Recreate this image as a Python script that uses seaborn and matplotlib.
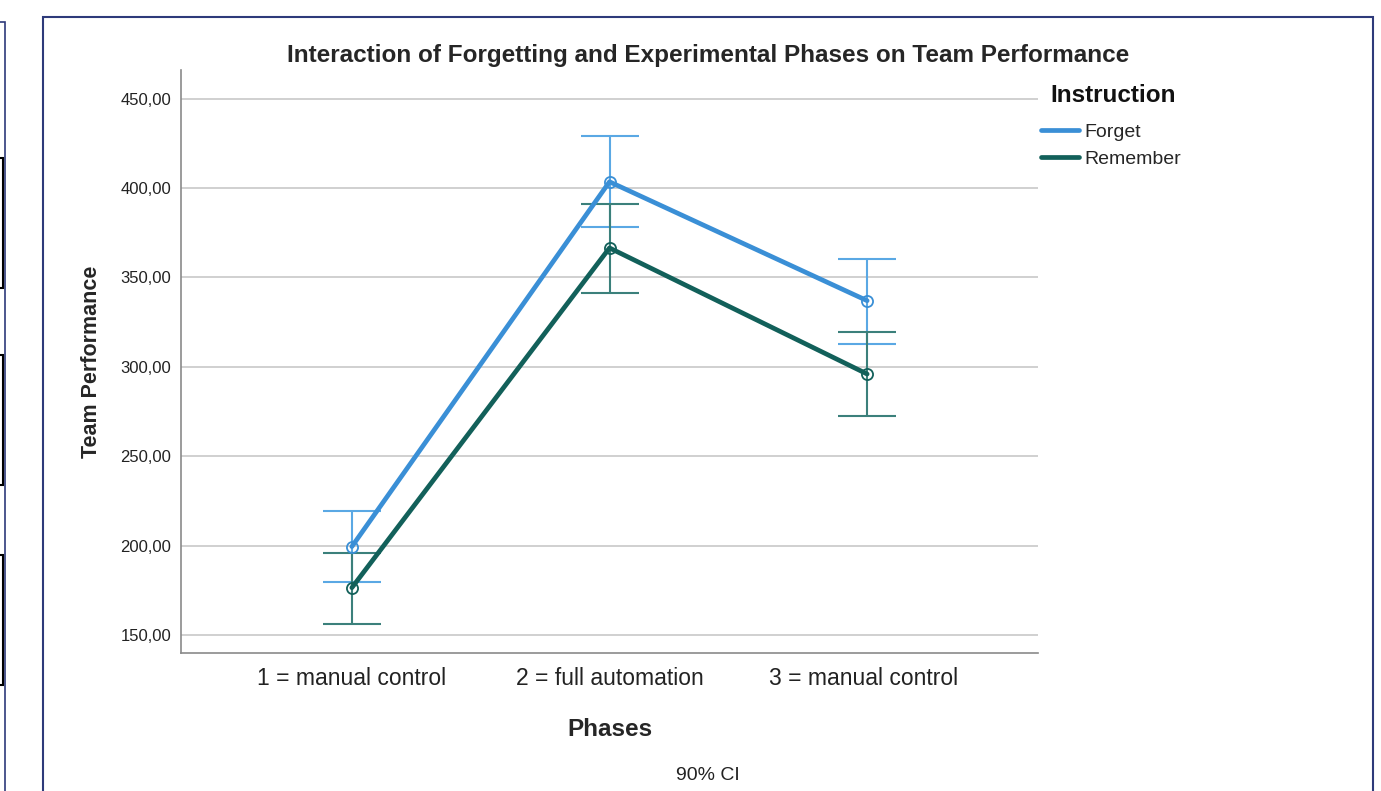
import numpy as np
import pandas as pd
import seaborn as sns
import matplotlib.pyplot as plt
from matplotlib.patches import Rectangle

# values
phases = ['1 = manual control', '2 = full automation', '3 = manual control ']
groups = ['Forget', 'Remember']
forget_mean = [199.5, 403.5, 337.0]
forget_low = [179.5, 378.0, 313.0]
forget_high = [219.5, 429.0, 360.5]
remember_mean = [176.5, 366.5, 296.0]
remember_low = [156.0, 341.5, 272.5]
remember_high = [196.0, 391.0, 319.5]
yticks = [150, 200, 250, 300, 350, 400, 450]

line_colors = {'Forget': '#3a8fd6', 'Remember': '#12605a'}
bar_colors = {'Forget': '#5aa8e4', 'Remember': '#3b807b'}

df = pd.DataFrame({
    'Phases': phases * 2,
    'Instruction': [groups[0]] * 3 + [groups[1]] * 3,
    'Team Performance': forget_mean + remember_mean,
    'low': forget_low + remember_low,
    'high': forget_high + remember_high,
})

sns.set_style('white')
plt.rcParams['font.family'] = ['Liberation Sans', 'DejaVu Sans']

fig = plt.figure(figsize=(13.81, 7.91), dpi=100)
ax = fig.add_axes([0.1311, 0.1745, 0.6205, 0.737])

for y in yticks:
    ax.axhline(y, color='#c8c8c8', lw=1.2, zorder=0)

# confidence interval bars first, lines drawn over them
for name, sub in df.groupby('Instruction'):
    mid = sub['Team Performance'].to_numpy()
    err = [mid - sub['low'].to_numpy(), sub['high'].to_numpy() - mid]
    ax.errorbar(sub['Phases'], mid, yerr=err, fmt='none', ecolor=bar_colors[name],
                elinewidth=1.5, capsize=21, capthick=1.5, zorder=2)

sns.lineplot(data=df, x='Phases', y='Team Performance', hue='Instruction',
             palette=line_colors, lw=3.4, marker='o', markersize=8,
             markerfacecolor='none', markeredgewidth=1.3, sort=False, ax=ax, zorder=3)
for line in ax.lines:
    if line.get_color() in line_colors.values():
        line.set_markeredgecolor(line.get_color())

ax.set_xlim(-0.663, 2.663)
ax.set_ylim(140, 466)
ax.set_yticks(yticks)
ax.set_yticklabels(['{:.2f}'.format(v).replace('.', ',') for v in yticks], fontsize=12, color='#222222')
ax.tick_params(axis='x', labelsize=16.5, colors='#222222', length=0, pad=10)
ax.tick_params(axis='y', length=0, pad=7)
for s in ['top', 'right']:
    ax.spines[s].set_visible(False)
for s in ['left', 'bottom']:
    ax.spines[s].set_color('#8a8a8a')
    ax.spines[s].set_linewidth(1.2)

ax.set_xlabel('Phases', fontsize=17.5, fontweight='bold', labelpad=20)
ax.set_ylabel('Team Performance', fontsize=15.5, fontweight='bold', labelpad=13)

leg = ax.legend(loc='upper left', bbox_to_anchor=(1041 / 1381, 1 - 123 / 791),
                bbox_transform=fig.transFigure, frameon=False, fontsize=14,
                handlelength=1.95, handletextpad=0.3, labelspacing=0.5, borderpad=0, borderaxespad=0)
for h in leg.legend_handles:
    h.set_marker('')
    h.set_linewidth(3.4)
fig.text(1050 / 1381, 1 - 95 / 791, 'Instruction', ha='left', va='center',
         fontsize=17.5, fontweight='bold', color='#111111')

fig.text(0.5127, 0.930, 'Interaction of Forgetting and Experimental Phases on Team Performance',
         ha='center', va='center', fontsize=17.5, fontweight='bold')
fig.text(0.5127, 0.02, '90% CI', ha='center', va='center', fontsize=14, color='#222222')

# screenshot frame around the chart and fragments at the left edge
fig.patches.append(Rectangle((43 / 1381, -0.1), 1330 / 1381, 1.1 - 17 / 791, transform=fig.transFigure,
                             fill=False, ec='#2e3a7a', lw=1.5))
fig.patches.append(Rectangle((-0.1, -0.1), 0.1 + 5 / 1381, 1.1 - 22 / 791, transform=fig.transFigure,
                             fill=False, ec='#2e3a7a', lw=1.2))
for top, bottom in [(158, 288), (355, 485), (555, 685)]:
    fig.patches.append(Rectangle((-0.01, 1 - bottom / 791), 0.01 + 3 / 1381, (bottom - top) / 791,
                                 transform=fig.transFigure, fill=False, ec='black', lw=1.5))

fig.savefig('out.png', dpi=100)
